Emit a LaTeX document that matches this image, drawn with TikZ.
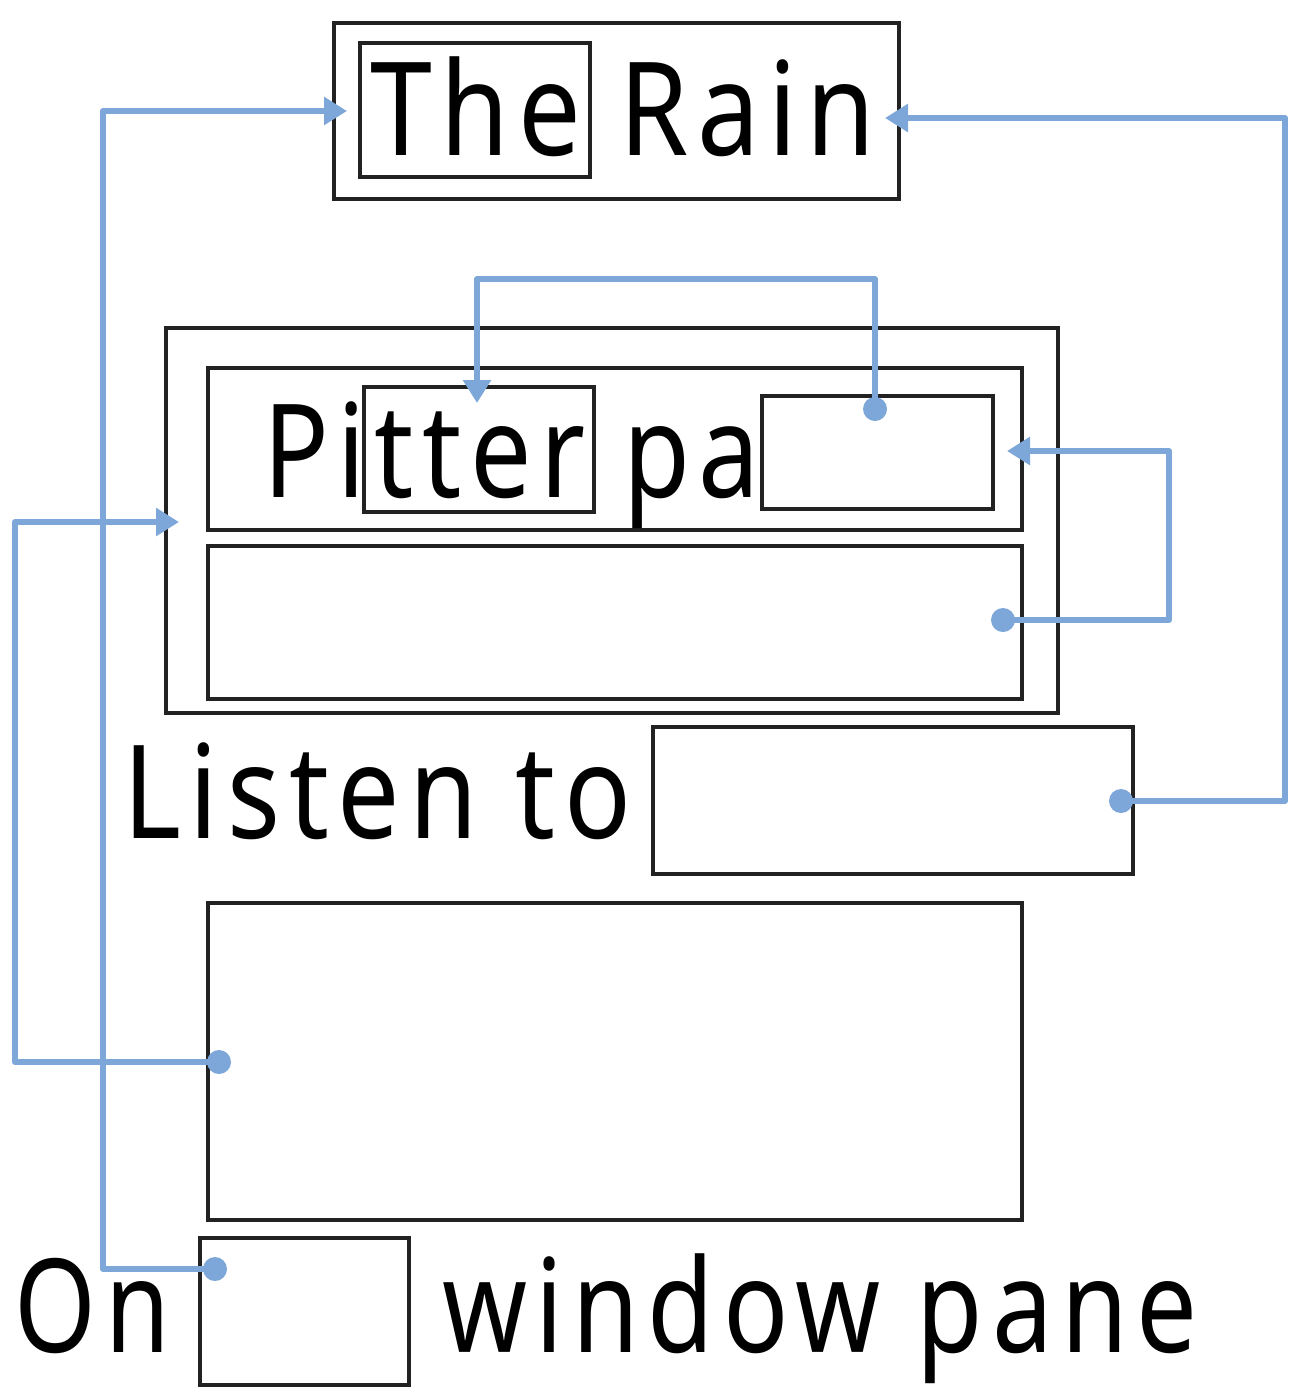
\documentclass[tikz,border=0pt]{standalone}
\usepackage{fontspec}
\setmainfont{Noto Sans}[LetterSpace=8]
\usetikzlibrary{arrows.meta}
\definecolor{conncol}{HTML}{7DA7D9}
\definecolor{boxcol}{HTML}{222222}
\newcommand\lyr[2]{\resizebox{#1pt}{\height}{\fontsize{130}{130}\selectfont #2}}
\tikzset{
  box/.style={draw=boxcol, line width=3.2pt, rectangle, inner sep=0pt, fill=none},
  txt/.style={inner sep=0pt, outer sep=0pt, anchor=base west, text=black},
  dot/.style={circle, fill=conncol, draw=none, minimum size=24pt, inner sep=0pt},
  conn/.style={draw=conncol, line width=6pt, line join=round, -{Triangle[length=23pt,width=27pt]}},
}
\begin{document}
\begin{tikzpicture}[x=1pt,y=-1pt]
\useasboundingbox (0,0) rectangle (1302,1398);
% boxes
\node[box, minimum width=565pt, minimum height=176pt] (title) at (616.5,111) {};
\node[box, minimum width=230pt, minimum height=134pt] (theB) at (475,110) {};
\node[box, minimum width=892pt, minimum height=385pt] (pitOuter) at (612,520.5) {};
\node[box, minimum width=814pt, minimum height=162pt] (pitTop) at (615,449) {};
\node[box, minimum width=230pt, minimum height=125pt] (tterB) at (479,449.5) {};
\node[box, minimum width=231pt, minimum height=113pt] (blankA) at (877.5,452.5) {};
\node[box, minimum width=814pt, minimum height=153pt] (pitBot) at (615,622.5) {};
\node[box, minimum width=480pt, minimum height=147pt] (listenB) at (893,800.5) {};
\node[box, minimum width=814pt, minimum height=317pt] (bigB) at (615,1061.5) {};
\node[box, minimum width=209pt, minimum height=147pt] (onB) at (304.5,1311.5) {};
% texts
\node[txt] (tRain) at (370,155) {\lyr{505}{The Rain}};
\node[txt] (tPit) at (263,497) {\lyr{497}{Pitter pa}};
\node[txt] (tListen) at (123,838) {\lyr{508}{Listen to}};
\node[txt] (tOn) at (15,1352) {\lyr{155}{On}};
\node[txt] (tWin) at (442,1352) {\lyr{756}{window pane}};
% dots and tips
\node[dot] (dOn) at (215,1269) {};
\node[dot] (dListen) at (1121,801) {};
\node[dot] (dBlank) at (875,409) {};
\node[dot] (dBot) at (1003,620) {};
\node[dot] (dBig) at (219,1062) {};
\coordinate (aTitleL) at (347,111);
\coordinate (aTitleR) at (885,118);
\coordinate (aTter) at (477,403);
\coordinate (aTop) at (1007,451);
\coordinate (aOuter) at (179,522);
% connectors
\draw[conn] (dOn.center) -- (103,1269) |- (aTitleL);
\draw[conn] (dListen.center) -- (1285,801) |- (aTitleR);
\draw[conn] (dBlank.center) -- (875,279) -| (aTter);
\draw[conn] (dBot.center) -- (1169,620) |- (aTop);
\draw[conn] (dBig.center) -- (15,1062) |- (aOuter);
\end{tikzpicture}
\end{document}
